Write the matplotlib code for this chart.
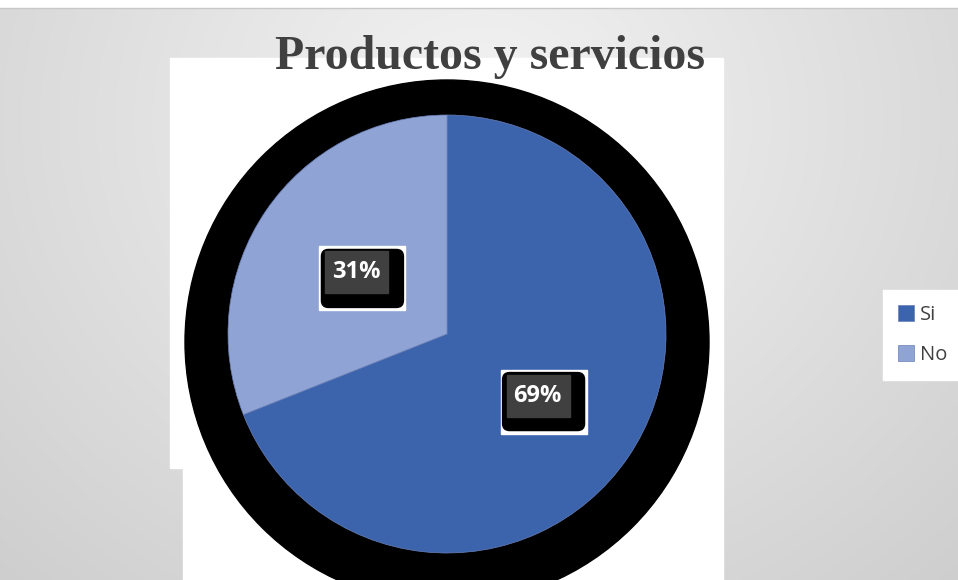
import numpy as np
import matplotlib
matplotlib.use('Agg')
import matplotlib.pyplot as plt
from matplotlib.patches import Rectangle, FancyBboxPatch, Circle

labels = ['Si', 'No']
values = [69, 31]
colors = ['#3B64AD', '#8FA3D4']
title = 'Productos y servicios'

W, H = 958, 580
fig = plt.figure(figsize=(W/100, H/100), dpi=100)
ax = fig.add_axes([0, 0, 1, 1])
ax.set_xlim(0, W)
ax.set_ylim(0, H)
ax.axis('off')

def Y(y):
    # pixel row -> data y
    return H - y

# radial gray gradient background
xx, yy = np.meshgrid(np.arange(W), np.arange(H))
d = np.sqrt(((xx - 480) / 620.0)**2 + ((yy - 120) / 560.0)**2)
g = np.clip(0.955 - 0.13*d, 0.8, 1)
img = np.dstack([g, g, g])
ax.imshow(img, extent=[0, W, 0, H], origin='upper', zorder=0, aspect='auto')
ax.add_patch(Rectangle((0, Y(7)), W, 7, color='white', zorder=1))
ax.plot([0, W], [Y(7.5), Y(7.5)], color='#c8c8c8', lw=1, zorder=1)

# white plot area
ax.add_patch(Rectangle((170, Y(468)), 553, 410, color='white', zorder=1))
ax.add_patch(Rectangle((183, Y(580)), 540, 112, color='white', zorder=1))

# black shadow
ax.add_patch(Circle((447, Y(342)), 262, color='black', zorder=2))

cx, cy, r = 447, Y(334), 219
wedges, texts, autotexts = ax.pie(values, colors=colors, startangle=90, counterclock=False,
                                  center=(cx, cy), radius=r, autopct='%1.0f%%', pctdistance=0.5,
                                  wedgeprops=dict(linewidth=0.5, edgecolor='#6a80b8'),
                                  textprops=dict(color='white', fontsize=17, fontweight='bold',
                                                 family='Open Sans'))
for w in wedges:
    w.set_zorder(3)
ax.set_xlim(0, W)
ax.set_ylim(0, H)
ax.set_aspect('auto')

for t in autotexts:
    x, y = t.get_position()
    ax.add_patch(Rectangle((x + 6 - 43, y - 6 - 32), 86, 64, color='white', zorder=4))
    ax.add_patch(FancyBboxPatch((x + 6 - 34, y - 6 - 22), 68, 44,
                                boxstyle='round,pad=7', fc='black', ec='black', zorder=5))
    ax.add_patch(Rectangle((x - 31, y - 21), 63, 42, color='#404040', zorder=6))
    t.set_zorder(7)

ax.text(490, Y(57), title, ha='center', va='center', fontsize=34.5, fontweight='bold',
        family='Liberation Serif', color='#404040', zorder=8)

leg = ax.legend(wedges, labels, loc='center left', bbox_to_anchor=(883/W, 1 - 335/H),
                frameon=True, fancybox=False, framealpha=1, edgecolor='white',
                handlelength=0.8, handleheight=0.8, handletextpad=0.3, borderaxespad=0,
                labelspacing=1.0, borderpad=0.75, prop=dict(family='Open Sans', size=14.5))
for txt in leg.get_texts():
    txt.set_color('#404040')

fig.savefig('out.png', dpi=100)
